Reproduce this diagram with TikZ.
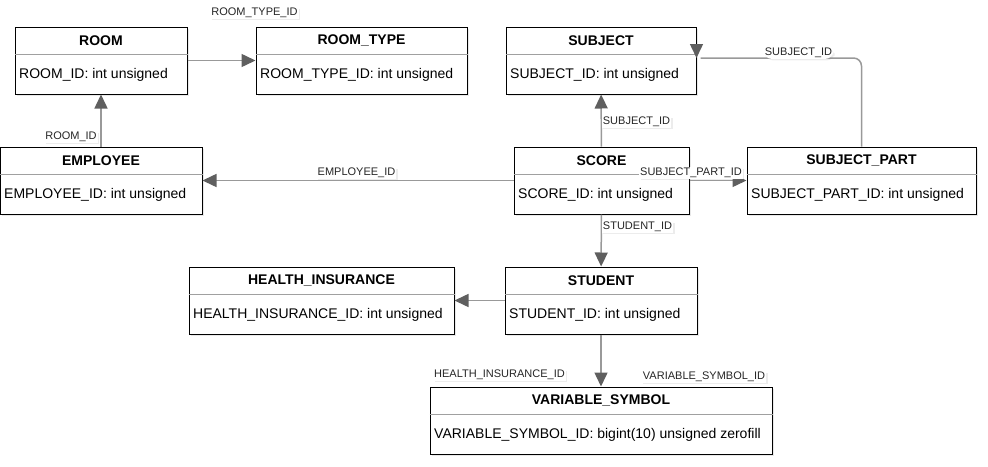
\documentclass[tikz,border=0pt]{standalone}
\usepackage{fontspec}
\setmainfont{Liberation Sans}
\usepackage{tikz}
\usetikzlibrary{arrows.meta,positioning,shadows}

\definecolor{linegray}{HTML}{999999}
\definecolor{headgray}{HTML}{5F5F5F}
\definecolor{rulegray}{HTML}{A0A0A0}

% one table box: name, centre, width, title, key column
\newcommand{\dbtable}[5]{%
  \node[tablebox, minimum width=#3] (#1) at (#2) {};
  \node[tabletitle] at ([yshift=-14pt]#1.north) {#4};
  \draw[rulegray, line width=0.8pt] ([yshift=-28pt]#1.north west) -- ([yshift=-28pt]#1.north east);
  \node[tableattr] at ([xshift=4.5pt, yshift=-48.5pt]#1.north west) {#5};
}

\begin{document}
\begin{tikzpicture}[x=1pt, y=-1pt,
    tablebox/.style = {shape=rectangle, draw=black, fill=white, line width=1pt,
      minimum height=67pt, inner sep=0pt,
      drop shadow={shadow xshift=2pt, shadow yshift=-2pt, opacity=0.18, fill=gray}},
    tabletitle/.style = {font=\fontsize{14}{16}\selectfont\bfseries, inner sep=0pt},
    tableattr/.style = {font=\fontsize{14}{16}\selectfont, anchor=west, inner sep=0pt},
    conn/.style = {draw=linegray, line width=1.5pt},
    fk/.style = {conn, -{Triangle[length=14pt, width=13pt, color=headgray]}},
    lbl/.style = {font=\fontsize{11}{12}\selectfont, fill=white, text=black!85, inner sep=1pt,
      drop shadow={shadow xshift=1.5pt, shadow yshift=-1.5pt, opacity=0.15, fill=gray}}]
    \useasboundingbox (0,0) rectangle (988,466);

    % tables
    \dbtable{room}{101,60.5}{172pt}{ROOM}{ROOM\_ID: int unsigned}
    \dbtable{roomtype}{361.5,60.5}{211pt}{ROOM\_TYPE}{ROOM\_TYPE\_ID: int unsigned}
    \dbtable{subject}{601,60.5}{190pt}{SUBJECT}{SUBJECT\_ID: int unsigned}
    \dbtable{employee}{101,180.5}{202pt}{EMPLOYEE}{EMPLOYEE\_ID: int unsigned}
    \dbtable{score}{601.5,180.5}{175pt}{SCORE}{SCORE\_ID: int unsigned}
    \dbtable{subjectpart}{861.5,180.5}{229pt}{SUBJECT\_PART}{SUBJECT\_PART\_ID: int unsigned}
    \dbtable{healthins}{321.5,300.5}{265pt}{HEALTH\_INSURANCE}{HEALTH\_INSURANCE\_ID: int unsigned}
    \dbtable{student}{601,300.5}{192pt}{STUDENT}{STUDENT\_ID: int unsigned}
    \dbtable{varsymbol}{601,420.5}{342pt}{VARIABLE\_SYMBOL}{VARIABLE\_SYMBOL\_ID: bigint(10) unsigned zerofill}

    % foreign keys
    \draw[fk] (room) -- (roomtype) node[lbl] at (254.5,13) {ROOM\_TYPE\_ID};
    \draw[fk] (employee) -- (room) node[lbl] at (71,137) {ROOM\_ID};
    \draw[fk] (score) -- (employee) node[lbl] at (356.5,173) {EMPLOYEE\_ID};
    \draw[fk] (score) -- (subject) node[lbl] at (636.5,122) {SUBJECT\_ID};
    \draw[fk] (score) -- (subjectpart) node[lbl] at (691,173) {SUBJECT\_PART\_ID};
    \draw[fk] (score) -- (student) node[lbl] at (637.5,227) {STUDENT\_ID};
    \draw[fk] (student) -- (healthins) node[lbl] at (499.5,375) {HEALTH\_INSURANCE\_ID};
    \draw[fk] (student) -- (varsymbol) node[lbl] at (704,377) {VARIABLE\_SYMBOL\_ID};
    \coordinate (sbjtip) at ([yshift=2.5pt]subject.east);
    \draw[conn, rounded corners=8pt] (subjectpart.north) |- ([xshift=4pt]sbjtip)
      node[lbl] at (798.5,53) {SUBJECT\_ID};
    \draw[fk] ([yshift=14pt]sbjtip) -- (sbjtip);
\end{tikzpicture}
\end{document}
